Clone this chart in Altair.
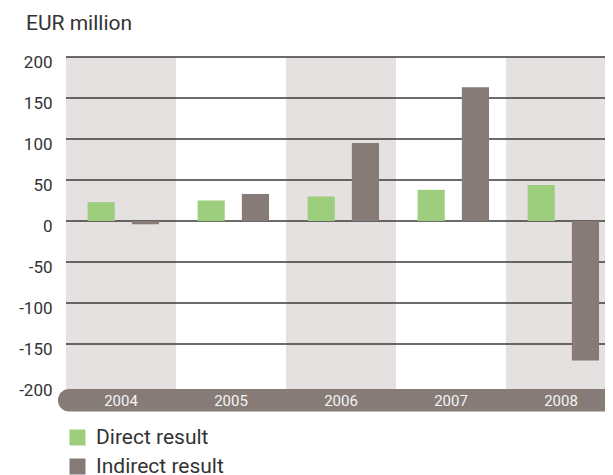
import altair as alt
import pandas as pd

years = ["2004", "2005", "2006", "2007", "2008"]
direct = [23, 25, 30, 38, 44]
indirect = [-4, 33, 95, 163, -170]
series = ["Direct result", "Indirect result"]
colors = ["#9dce7e", "#867b76"]
y_ticks = [-200, -150, -100, -50, 0, 50, 100, 150, 200]
grid_values = [-150, -100, -50, 0, 50, 100, 150, 200]
unit_label = "EUR million"

FONT = "Roboto"
TEXT = "#333333"

bars_df = pd.DataFrame({
    "year": years * 2,
    "series": [series[0]] * len(years) + [series[1]] * len(years),
    "value": direct + indirect,
})
years_df = pd.DataFrame({"year": years})
grid_df = pd.DataFrame({"v": grid_values})
one_df = pd.DataFrame({"t": [unit_label]})

xscale = alt.Scale(domain=years, range=[0, 550], paddingInner=0, paddingOuter=0)
x = alt.X("year:N", sort=years, scale=xscale, axis=None)
yscale = alt.Scale(domain=[-200, 200], nice=False, zero=False)

yaxis = alt.Axis(
    values=y_ticks, domain=False, ticks=False, tickSize=0, grid=False,
    labelPadding=14, labelFontSize=17, labelColor=TEXT, labelFont=FONT,
    labelOffset=5, labelBaseline="middle", title=None,
    labelExpr="datum.value == 0 ? '0\u00a0\u00a0' : '' + datum.value",
)

bands = (
    alt.Chart(years_df)
    .transform_window(idx="row_number()")
    .transform_filter("datum.idx % 2 == 1")
    .mark_rect(color="#e5e1e0")
    .encode(x=x, y=alt.value(0), y2=alt.value(332))
)

grid = (
    alt.Chart(grid_df)
    .mark_rule(color="#3a3a3a", strokeWidth=1.4)
    .encode(y=alt.Y("v:Q", scale=yscale, axis=yaxis), x=alt.value(0), x2=alt.value(560))
)

bars = (
    alt.Chart(bars_df)
    .mark_bar()
    .encode(
        x=x,
        xOffset=alt.XOffset(
            "series:N",
            sort=series,
            scale=alt.Scale(domain=series, paddingInner=0.386, paddingOuter=0.436, align=0.56),
        ),
        y=alt.Y("value:Q", scale=yscale),
        color=alt.Color(
            "series:N",
            scale=alt.Scale(domain=series, range=colors),
            legend=alt.Legend(
                title=None, orient="none", legendX=1, legendY=370,
                direction="vertical", symbolType="square", symbolSize=256,
                symbolStrokeWidth=0, symbolOpacity=1, labelFontSize=21,
                labelFont=FONT, labelColor=TEXT, labelOffset=8,
                rowPadding=7, padding=0,
            ),
        ),
    )
)

axisbar = (
    alt.Chart(one_df)
    .mark_rect(color="#867b76", cornerRadius=11)
    .encode(x=alt.value(-8), x2=alt.value(580), y=alt.value(332), y2=alt.value(354.5))
)

year_text = (
    alt.Chart(years_df)
    .mark_text(color="#f4f4f4", fontSize=15, font=FONT, baseline="middle")
    .encode(x=x, y=alt.value(343.5), text="year:N")
)

title_text = (
    alt.Chart(one_df)
    .mark_text(align="left", baseline="alphabetic", fontSize=21, font=FONT, color=TEXT)
    .encode(x=alt.value(-40), y=alt.value(-27), text="t:N")
)

chart = (
    alt.layer(bands, grid, bars, axisbar, year_text, title_text)
    .properties(
        width=539, height=328, autosize="none",
        padding={"left": 58, "top": 49, "right": 0, "bottom": 90},
        background="white",
    )
    .configure_view(stroke=None)
)

chart.save("out.html", embed_options={"renderer": "svg", "actions": False})
